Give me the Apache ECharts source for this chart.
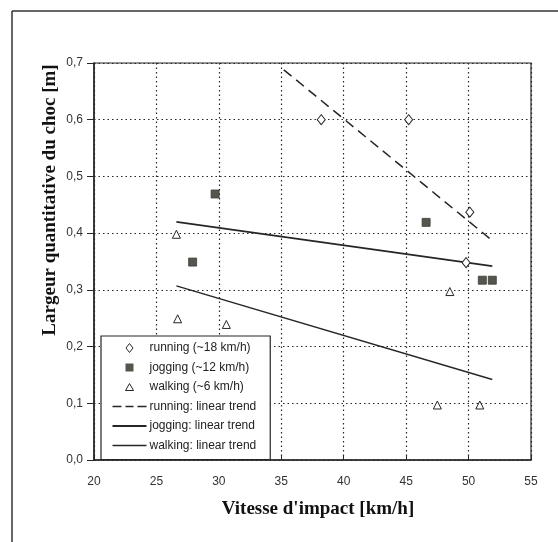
<!DOCTYPE html>
<html>
<head>
<meta charset="utf-8">
<script src="https://cdn.jsdelivr.net/npm/echarts@6/dist/echarts.min.js"></script>
<style>
  html, body { margin: 0; padding: 0; background: #fff; }
  #chart { width: 558px; height: 542px; }
</style>
</head>
<body>
<div id="chart"></div>
<script>
// measured points  [vitesse km/h, largeur m]
var running = [[38.2, 0.600], [45.2, 0.600], [50.1, 0.437], [49.8, 0.348]];
var jogging = [[29.7, 0.469], [27.9, 0.349], [46.6, 0.419], [51.1, 0.317], [51.9, 0.317]];
var walking = [[26.6, 0.398], [26.7, 0.249], [30.6, 0.239], [48.5, 0.297], [47.5, 0.097], [50.9, 0.097]];

// linear trends (end points)
var runningTrend = [[35.2, 0.688], [52.0, 0.385]];
var joggingTrend = [[26.6, 0.420], [51.9, 0.342]];
var walkingTrend = [[26.6, 0.307], [51.9, 0.142]];

var legendNames = ['running (~18 km/h)', 'jogging (~12 km/h)', 'walking (~6 km/h)',
  'running: linear trend', 'jogging: linear trend', 'walking: linear trend'];

var xTicks = [20, 25, 30, 35, 40, 45, 50, 55];
var yTicks = [0, 0.1, 0.2, 0.3, 0.4, 0.5, 0.6, 0.7];

var ink = '#262626';
var sans = 'Liberation Sans';

// legend icons: small symbol centred in a 34x9 box (corner anchors keep the box size)
var anchors = ' M0,0 L0,0 M34,9 L34,9';
var iconDiamond = 'path://M17,0 L20.5,4.5 L17,9 L13.5,4.5 Z' + anchors;
var iconSquare = 'path://M13,0.5 L21,0.5 L21,8.5 L13,8.5 Z' + anchors;
var iconTriangle = 'path://M17,1 L21,8 L13,8 Z' + anchors;

var chart = echarts.init(document.getElementById('chart'));

var option = {
  animation: false,
  backgroundColor: '#fff',
  grid: {
    left: 94, right: 27, top: 63, bottom: 82,
    show: true, borderColor: ink, borderWidth: 1.2, backgroundColor: 'transparent'
  },
  legend: {
    orient: 'vertical',
    left: 101, top: 336,
    padding: [6, 14, 8, 11],
    itemWidth: 34, itemHeight: 9, itemGap: 7.5,
    backgroundColor: '#fff',
    borderColor: ink, borderWidth: 1.2,
    textStyle: { fontFamily: sans, fontSize: 12, color: '#222', padding: [0, 0, 0, -2] },
    data: [
      { name: legendNames[0], icon: iconDiamond, itemStyle: { color: '#fff', borderColor: ink, borderWidth: 1 } },
      { name: legendNames[1], icon: iconSquare, itemStyle: { color: '#55574f', borderWidth: 0 } },
      { name: legendNames[2], icon: iconTriangle, itemStyle: { color: '#fff', borderColor: ink, borderWidth: 1 } },
      { name: legendNames[3], icon: 'path://M0,0h9v1.6h-9z M13,0h8v1.6h-8z M25,0h9v1.6h-9z' },
      { name: legendNames[4], icon: 'path://M0,0h34v1.8h-34z' },
      { name: legendNames[5], icon: 'path://M0,0h34v1.4h-34z' }
    ]
  },
  xAxis: {
    type: 'value',
    min: xTicks[0], max: xTicks[xTicks.length - 1], interval: 5,
    name: "Vitesse d'impact [km/h]",
    nameLocation: 'middle', nameGap: 40,
    nameTextStyle: { fontFamily: 'Liberation Serif', fontWeight: 'bold', fontSize: 19, color: '#111', padding: [0, 0, 0, 11] },
    axisLine: { lineStyle: { color: ink, width: 1.5 } },
    axisTick: { inside: true, length: 4, lineStyle: { color: ink } },
    axisLabel: { fontFamily: sans, fontSize: 12, color: '#333', margin: 16 },
    splitLine: { show: true, lineStyle: { color: ink, width: 1.2, type: [1.5, 3] } }
  },
  yAxis: {
    type: 'value',
    min: yTicks[0], max: yTicks[yTicks.length - 1], interval: 0.1,
    axisLine: { show: true, lineStyle: { color: ink, width: 1.5 } },
    axisTick: { show: true, inside: false, length: 7, lineStyle: { color: ink } },
    axisLabel: {
      fontFamily: sans, fontSize: 12, color: '#333', margin: 11,
      formatter: function (v) { return v.toFixed(1).replace('.', ','); }
    },
    splitLine: { show: true, lineStyle: { color: ink, width: 1.2, type: [1.5, 3] } }
  },
  graphic: [
    { type: 'line', shape: { x1: 12, y1: 11, x2: 558, y2: 11 }, style: { stroke: '#333', lineWidth: 1.5 } },
    { type: 'line', shape: { x1: 12, y1: 11, x2: 12, y2: 542 }, style: { stroke: '#333', lineWidth: 1.5 } },
    {
      type: 'text', x: 50, y: 200, rotation: Math.PI / 2,
      style: {
        text: 'Largeur quantitative du choc [m]',
        font: 'bold 19px "Liberation Serif"', fill: '#111',
        textAlign: 'center', textVerticalAlign: 'middle'
      }
    }
  ],
  series: [
    {
      name: legendNames[3], type: 'line', data: runningTrend, showSymbol: false, symbol: 'none',
      lineStyle: { color: ink, width: 1.5, type: [10, 6] }, itemStyle: { color: ink }, z: 2
    },
    {
      name: legendNames[4], type: 'line', data: joggingTrend, showSymbol: false, symbol: 'none',
      lineStyle: { color: ink, width: 1.8 }, itemStyle: { color: ink }, z: 2
    },
    {
      name: legendNames[5], type: 'line', data: walkingTrend, showSymbol: false, symbol: 'none',
      lineStyle: { color: ink, width: 1.4 }, itemStyle: { color: ink }, z: 2
    },
    {
      name: legendNames[0], type: 'scatter', data: running, symbol: 'diamond', symbolSize: [8, 10],
      itemStyle: { color: '#fff', borderColor: ink, borderWidth: 1, opacity: 1 }, z: 3
    },
    {
      name: legendNames[1], type: 'scatter', data: jogging, symbol: 'rect', symbolSize: 8,
      itemStyle: { color: '#55574f', borderColor: '#3a3b35', borderWidth: 0.8, opacity: 1 }, z: 3
    },
    {
      name: legendNames[2], type: 'scatter', data: walking, symbol: 'triangle', symbolSize: 8,
      itemStyle: { color: '#fff', borderColor: ink, borderWidth: 1, opacity: 1 }, z: 3
    }
  ]
};

chart.setOption(option);

window.addEventListener('resize', function () {
  chart.resize();
});
</script>
</body>
</html>
